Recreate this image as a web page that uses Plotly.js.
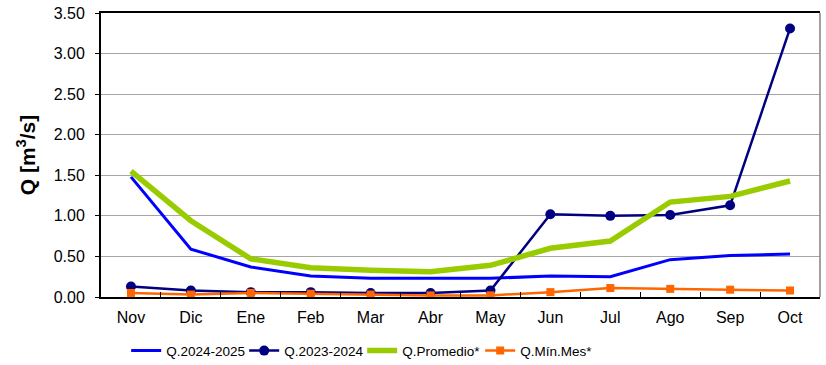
<!DOCTYPE html>
<html>
<head>
<meta charset="utf-8">
<script src="https://cdn.plot.ly/plotly-3.0.1.min.js"></script>
<style>html,body{margin:0;padding:0;background:#fff;}#chart{width:826px;height:365px;}</style>
</head>
<body>
<div id="chart"></div>
<script>
var months = ["Nov","Dic","Ene","Feb","Mar","Abr","May","Jun","Jul","Ago","Sep","Oct"];
var q2024_2025 = [1.48,0.59,0.37,0.26,0.23,0.23,0.23,0.26,0.25,0.46,0.51,0.53];
var q2023_2024 = [0.13,0.08,0.06,0.06,0.05,0.05,0.08,1.02,1.00,1.01,1.13,3.31];
var qPromedio = [1.55,0.94,0.47,0.36,0.33,0.31,0.39,0.60,0.69,1.17,1.24,1.43];
var qMinMes = [0.05,0.03,0.05,0.04,0.03,0.02,0.02,0.06,0.11,0.10,0.09,0.08];
var yTicks = [0,0.5,1,1.5,2,2.5,3,3.5];

var traces = [
  {x: months, y: q2024_2025, name: "Q.2024-2025", type: "scatter", mode: "lines",
   line: {color: "#0000FF", width: 3}},
  {x: months, y: q2023_2024, name: "Q.2023-2024", type: "scatter", mode: "lines+markers",
   line: {color: "#000080", width: 2.5}, marker: {color: "#000080", size: 10, symbol: "circle"}},
  {x: months, y: qPromedio, name: "Q.Promedio*", type: "scatter", mode: "lines",
   line: {color: "#99CC00", width: 5.5}},
  {x: months, y: qMinMes, name: "Q.Mín.Mes*", type: "scatter", mode: "lines+markers",
   line: {color: "#FF6600", width: 2.5}, marker: {color: "#FF6600", size: 8, symbol: "square"}}
];

var layout = {
  width: 826, height: 365,
  margin: {l: 101, r: 6, t: 13, b: 68, autoexpand: false},
  paper_bgcolor: "#fff", plot_bgcolor: "#fff",
  font: {family: "Arial, Liberation Sans, sans-serif", color: "#000", size: 16},
  showlegend: true,
  legend: {orientation: "h", x: 0.035, xanchor: "left", y: -0.135, yanchor: "top",
           font: {size: 13.5}, entrywidth: 73, entrywidthmode: "pixels", tracegroupgap: 0},
  xaxis: {type: "category", range: [-0.5, 11.5], showgrid: false, zeroline: false,
          showline: true, linecolor: "#000", linewidth: 2, mirror: true,
          ticks: "inside", tickson: "boundaries", ticklen: 5, tickcolor: "#000",
          tickfont: {size: 16}, ticklabelstandoff: 5, fixedrange: true},
  yaxis: {range: [0, 3.5], tickvals: yTicks, tickformat: ".2f", showgrid: true,
          gridcolor: "#A6A6A6", gridwidth: 1, zeroline: false,
          showline: true, linecolor: "#000", linewidth: 2,
          ticks: "outside", ticklen: 4, tickcolor: "#000", tickfont: {size: 16},
          ticklabelstandoff: 7,
          title: {text: "<b>Q [m<sup>3</sup>/s]</b>", font: {size: 21}, standoff: 12}},
  shapes: [{type: "line", xref: "paper", yref: "paper", x0: 1, x1: 1, y0: 0, y1: 1,
            line: {color: "#808080", width: 1.5}}]
};

Plotly.newPlot("chart", traces, layout, {displayModeBar: false, staticPlot: true});
</script>
</body>
</html>
